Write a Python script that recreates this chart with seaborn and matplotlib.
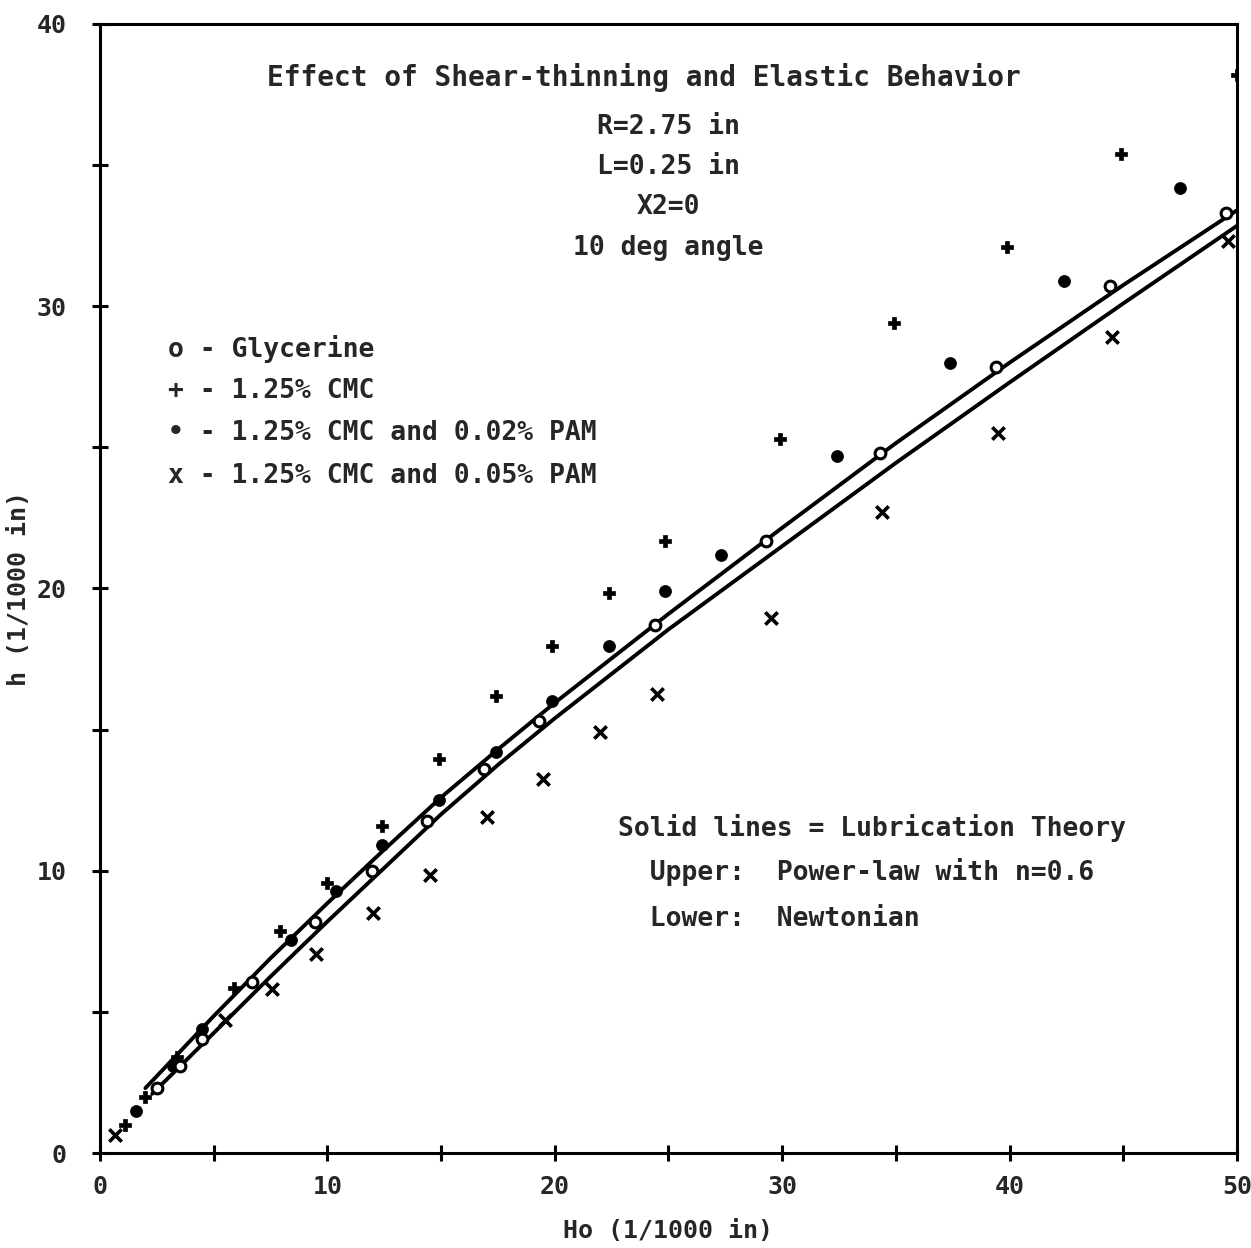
import numpy as np
import pandas as pd
import matplotlib
matplotlib.use("Agg")
import matplotlib.pyplot as plt
import seaborn as sns
from matplotlib.ticker import MultipleLocator

sns.set_theme(style="white")
plt.rcParams['font.family'] = ['DejaVu Sans Mono', 'DejaVu Sans']
plt.rcParams['font.weight'] = 'bold'

# ---- data ----
gly_x = [2.5, 3.5, 4.5, 6.7, 9.45, 11.95, 14.4, 16.9, 19.3, 24.4, 29.3, 34.3, 39.4, 44.4, 49.5]
gly_y = [2.3, 3.1, 4.05, 6.05, 8.2, 10.0, 11.75, 13.6, 15.3, 18.7, 21.7, 24.8, 27.85, 30.7, 33.3]

cmc_x = [1.1, 2.0, 3.4, 5.9, 7.9, 10.0, 12.4, 14.9, 17.4, 19.9, 22.4, 24.85, 29.9, 34.9, 39.9, 44.9, 50.0]
cmc_y = [1.0, 2.0, 3.4, 5.85, 7.85, 9.55, 11.6, 13.95, 16.2, 17.95, 19.85, 21.7, 25.3, 29.4, 32.1, 35.4, 38.2]

pam02_x = [1.6, 3.2, 4.5, 8.4, 10.4, 12.4, 14.9, 17.4, 19.9, 22.4, 24.85, 27.3, 32.4, 37.4, 42.4, 47.5]
pam02_y = [1.5, 3.1, 4.4, 7.55, 9.3, 10.9, 12.5, 14.2, 16.0, 17.95, 19.9, 21.2, 24.7, 28.0, 30.9, 34.2]

pam05_x = [0.66, 5.5, 7.55, 9.5, 12.0, 14.5, 17.0, 19.5, 22.0, 24.5, 29.5, 34.4, 39.5, 44.5, 49.6]
pam05_y = [0.64, 4.7, 5.8, 7.06, 8.5, 9.86, 11.9, 13.25, 14.9, 16.25, 18.96, 22.7, 25.5, 28.9, 32.3]

# theory curves
upper_x = [2.0, 3.0, 5.0, 7.5, 10.0, 12.5, 15.0, 17.5, 20.0, 25.0, 30.0, 35.0, 40.0, 45.0, 50.0]
upper_y = [2.3, 3.15, 4.85, 6.9, 8.85, 10.75, 12.6, 14.3, 15.95, 19.1, 22.15, 25.15, 28.0, 30.75, 33.4]
lower_x = [2.3, 5.0, 7.5, 10.0, 12.5, 15.0, 17.5, 20.0, 25.0, 30.0, 35.0, 40.0, 45.0, 50.0]
lower_y = [2.1, 4.25, 6.25, 8.2, 10.1, 12.0, 13.75, 15.4, 18.55, 21.5, 24.45, 27.3, 30.1, 32.85]

x_ticks = [0, 10, 20, 30, 40, 50]
y_ticks = [0, 10, 20, 30, 40]

title_lines = ["Effect of Shear-thinning and Elastic Behavior",
               "R=2.75 in", "L=0.25 in", "X2=0", "10 deg angle"]
legend_lines = ["o - Glycerine", "+ - 1.25% CMC",
                "\u2022 - 1.25% CMC and 0.02% PAM", "x - 1.25% CMC and 0.05% PAM"]
note_lines = ["Solid lines = Lubrication Theory",
              "  Upper:  Power-law with n=0.6",
              "  Lower:  Newtonian"]

# ---- figure ----
fig = plt.figure(figsize=(12.51, 12.48), dpi=100)
ax = fig.add_axes([0.0799, 0.0761, 0.9089, 0.9047])

sns.lineplot(x=upper_x, y=upper_y, color='black', lw=2.8, ax=ax, sort=False)
sns.lineplot(x=lower_x, y=lower_y, color='black', lw=2.8, ax=ax, sort=False)

sns.scatterplot(x=cmc_x, y=cmc_y, marker='P', s=70, color='black',
                edgecolor='black', linewidth=0.5, ax=ax, zorder=3)
sns.scatterplot(x=pam02_x, y=pam02_y, marker='o', s=75, color='black',
                edgecolor='black', linewidth=0.5, ax=ax, zorder=3)
sns.scatterplot(x=pam05_x, y=pam05_y, marker='x', s=80, color='black',
                linewidth=2.6, ax=ax, zorder=3)
sns.scatterplot(x=gly_x, y=gly_y, marker='o', s=60, facecolor='white',
                edgecolor='black', linewidth=2.2, ax=ax, zorder=4)

ax.set_xlim(0, 50)
ax.set_ylim(0, 40)
ax.set_xticks(x_ticks)
ax.set_yticks(y_ticks)
ax.xaxis.set_minor_locator(MultipleLocator(5))
ax.yaxis.set_minor_locator(MultipleLocator(5))
ax.tick_params(which='both', direction='inout', length=12, width=2.2,
               color='black', bottom=True, left=True)
ax.tick_params(axis='x', labelsize=18, pad=10)
ax.tick_params(axis='y', labelsize=18, pad=18)
for lab in ax.get_xticklabels() + ax.get_yticklabels():
    lab.set_fontweight('bold')
for sp in ax.spines.values():
    sp.set_visible(True)
    sp.set_color('black')
    sp.set_linewidth(2.2)
ax.grid(False)

ax.set_xlabel("Ho (1/1000 in)", fontsize=18, fontweight='bold', labelpad=14)
ax.set_ylabel("h (1/1000 in)", fontsize=18, fontweight='bold', labelpad=4)

# title block
ty = [38.1, 36.35, 34.95, 33.5, 32.05]
for i, (t, y) in enumerate(zip(title_lines, ty)):
    ax.text(23.9 if i == 0 else 25.0, y, t, ha='center', va='center',
            fontsize=20 if i == 0 else 19, fontweight='bold')

# legend text
ly = [28.5, 27.0, 25.5, 24.0]
for t, y in zip(legend_lines, ly):
    ax.text(3.0, y, t, ha='left', va='center', fontsize=19, fontweight='bold')

# notes
ny = [11.5, 9.95, 8.3]
for t, y in zip(note_lines, ny):
    ax.text(22.8, y, t, ha='left', va='center', fontsize=19, fontweight='bold')

fig.savefig("out.png", dpi=100)
